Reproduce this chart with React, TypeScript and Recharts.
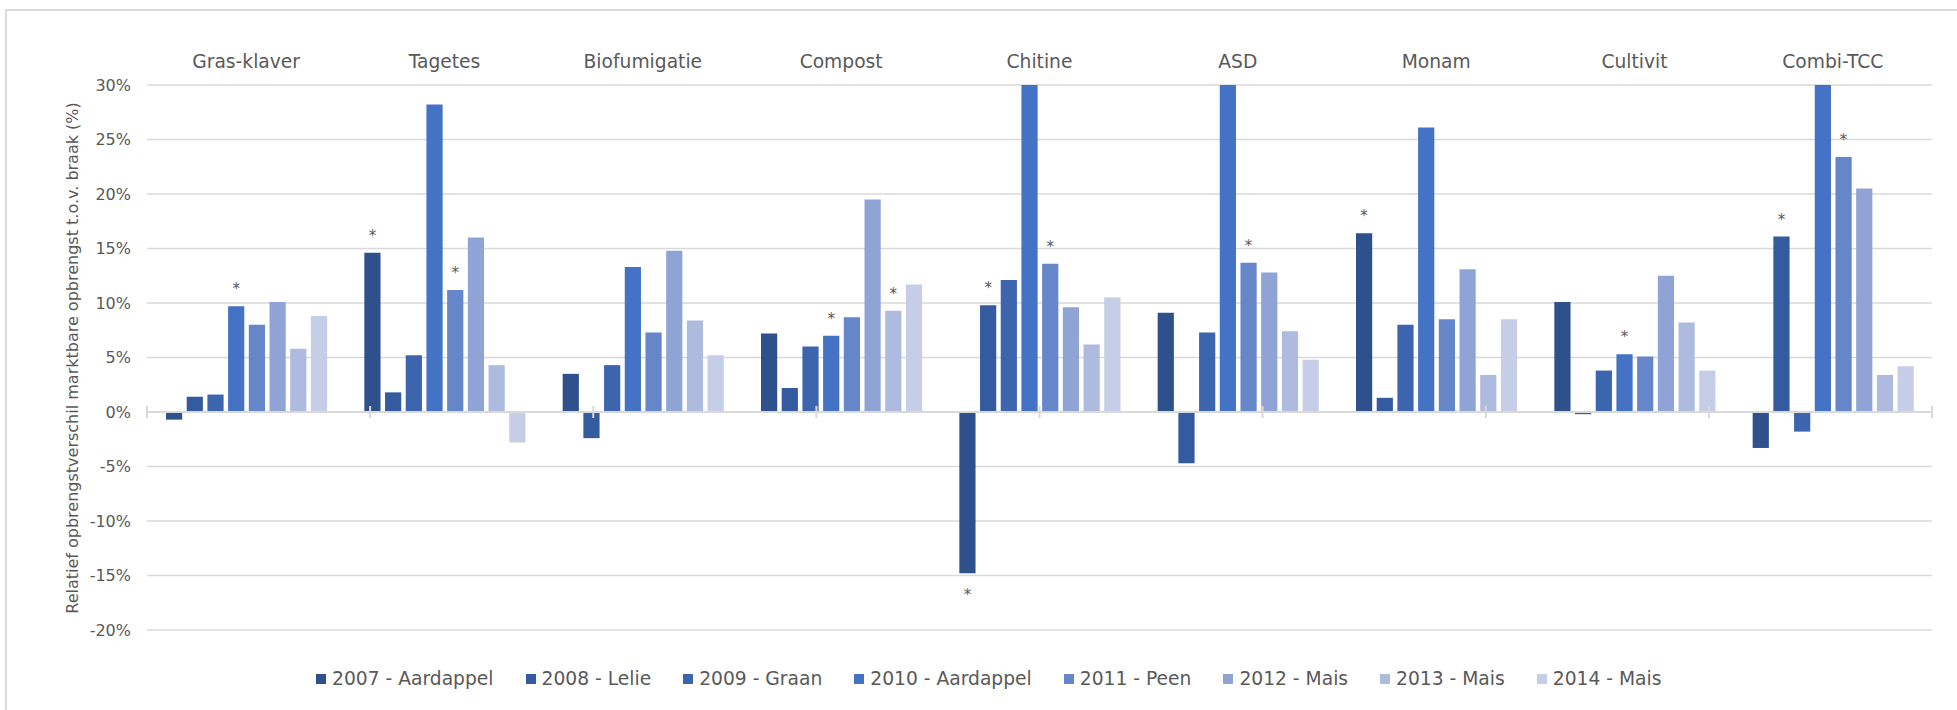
import React from "react";
import { BarChart, Bar, XAxis, YAxis, CartesianGrid, ReferenceLine, LabelList } from "recharts";

const categories = ["Gras-klaver", "Tagetes", "Biofumigatie", "Compost", "Chitine", "ASD", "Monam", "Cultivit", "Combi-TCC"];

const seriesNames = ["2007 - Aardappel", "2008 - Lelie", "2009 - Graan", "2010 - Aardappel", "2011 - Peen", "2012 - Mais", "2013 - Mais", "2014 - Mais"];
const seriesColors = ["#2E508B", "#345AA0", "#3C65AE", "#4472C4", "#6686CA", "#8FA4D5", "#AEBBDE", "#C6CDE6"];

const v2007 = [-0.7, 14.6, 3.5, 7.2, -14.8, 9.1, 16.4, 10.1, -3.3];
const v2008 = [1.4, 1.8, -2.4, 2.2, 9.8, -4.7, 1.3, -0.2, 16.1];
const v2009 = [1.6, 5.2, 4.3, 6.0, 12.1, 7.3, 8.0, 3.8, -1.8];
const v2010 = [9.7, 28.2, 13.3, 7.0, 31, 31, 26.1, 5.3, 31];
const v2011 = [8.0, 11.2, 7.3, 8.7, 13.6, 13.7, 8.5, 5.1, 23.4];
const v2012 = [10.1, 16.0, 14.8, 19.5, 9.6, 12.8, 13.1, 12.5, 20.5];
const v2013 = [5.8, 4.3, 8.4, 9.3, 6.2, 7.4, 3.4, 8.2, 3.4];
const v2014 = [8.8, -2.8, 5.2, 11.7, 10.5, 4.8, 8.5, 3.8, 4.2];

// significance markers (*)
const s2007 = [0, 1, 0, 0, 1, 0, 1, 0, 0];
const s2008 = [0, 0, 0, 0, 1, 0, 0, 0, 1];
const s2009 = [0, 0, 0, 0, 0, 0, 0, 0, 0];
const s2010 = [1, 0, 0, 1, 0, 0, 0, 1, 0];
const s2011 = [0, 1, 0, 0, 1, 1, 0, 0, 1];
const s2012 = [0, 0, 0, 0, 0, 0, 0, 0, 0];
const s2013 = [0, 0, 0, 1, 0, 0, 0, 0, 0];
const s2014 = [0, 0, 0, 0, 0, 0, 0, 0, 0];

const yTicks = [-20, -15, -10, -5, 0, 5, 10, 15, 20, 25, 30];
const boundaryTicks = [0, 1, 2, 3, 4, 5, 6, 7, 8, 9];

const seriesValues = [v2007, v2008, v2009, v2010, v2011, v2012, v2013, v2014];
const seriesSig = [s2007, s2008, s2009, s2010, s2011, s2012, s2013, s2014];
const seriesKeys = ["y2007", "y2008", "y2009", "y2010", "y2011", "y2012", "y2013", "y2014"];

const data = categories.map((c, i) => {
  const row: any = { name: c };
  seriesKeys.forEach((k, s) => {
    row[k] = seriesValues[s][i];
  });
  return row;
});

const FONT = "'DejaVu Sans', Verdana, sans-serif";
const TEXT = "#595959";
const GRID = "#D9D9D9";

const makeStar = (sig: number[]) => (props: any) => {
  const { x, y, width, height, index, value } = props;
  if (!sig[index]) return null;
  const top = Math.min(y, y + height);
  const bottom = Math.max(y, y + height);
  const cx = x + width / 2;
  const ty = value >= 0 ? top - 12 : bottom + 27;
  return (
    <text x={cx} y={ty} textAnchor="middle" fill={TEXT} fontSize={15} fontFamily={FONT}>
      *
    </text>
  );
};

export default function App() {
  return (
    <div style={{ position: "absolute", left: 0, top: 0, width: 1957, height: 710, overflow: "hidden", background: "#fff" }}>
      <div
        style={{
          position: "absolute",
          left: 5,
          top: 9,
          width: 1970,
          height: 730,
          border: `2px solid ${GRID}`,
          boxSizing: "border-box",
        }}
      />
      <div style={{ position: "absolute", left: 0, top: 0 }}>
        <BarChart
          width={1957}
          height={710}
          data={data}
          margin={{ top: 45, right: 25, bottom: 80, left: 0 }}
          barSize={16.2}
          barGap={4.5}
        >
          <CartesianGrid vertical={false} stroke={GRID} strokeWidth={1.5} />
          <XAxis
            dataKey="name"
            orientation="top"
            height={40}
            axisLine={false}
            tickLine={false}
            tickSize={0}
            tickMargin={17}
            interval={0}
            tick={{ fill: TEXT, fontSize: 18.7, fontFamily: FONT }}
          />
          <XAxis xAxisId="num" type="number" domain={[0, 9]} hide allowDataOverflow />
          <YAxis
            domain={[-20, 30]}
            ticks={yTicks}
            allowDataOverflow
            width={147}
            axisLine={false}
            tickLine={false}
            tickSize={0}
            tickMargin={16}
            tickFormatter={(v: number) => `${v}%`}
            tick={{ fill: TEXT, fontSize: 16, fontFamily: FONT }}
            label={{
              content: () => (
                <text
                  x={72}
                  y={358}
                  transform="rotate(-90, 72, 358)"
                  textAnchor="middle"
                  dominantBaseline="central"
                  fill={TEXT}
                  fontSize={16}
                  fontFamily={FONT}
                >
                  Relatief opbrengstverschil marktbare opbrengst t.o.v. braak (%)
                </text>
              ),
            }}
          />
          {seriesKeys.map((k, s) => (
            <Bar key={k} dataKey={k} name={seriesNames[s]} fill={seriesColors[s]} isAnimationActive={false}>
              <LabelList dataKey={k} content={makeStar(seriesSig[s])} />
            </Bar>
          ))}
          <ReferenceLine xAxisId="num" y={0} stroke={GRID} strokeWidth={2} />
          {boundaryTicks.map((t) => (
            <ReferenceLine
              key={t}
              xAxisId="num"
              segment={[
                { x: t, y: -0.55 },
                { x: t, y: 0.55 },
              ]}
              stroke={GRID}
              strokeWidth={2}
            />
          ))}
        </BarChart>
      </div>
      <div
        style={{
          position: "absolute",
          left: 316,
          top: 667,
          display: "flex",
          alignItems: "center",
          fontFamily: FONT,
          fontSize: 18.7,
          color: TEXT,
          whiteSpace: "nowrap",
          lineHeight: "24px",
        }}
      >
        {seriesNames.map((n, s) => (
          <div key={n} style={{ display: "flex", alignItems: "center", marginRight: 32 }}>
            <div style={{ width: 10, height: 10, background: seriesColors[s], marginRight: 6 }} />
            <span>{n}</span>
          </div>
        ))}
      </div>
    </div>
  );
}
